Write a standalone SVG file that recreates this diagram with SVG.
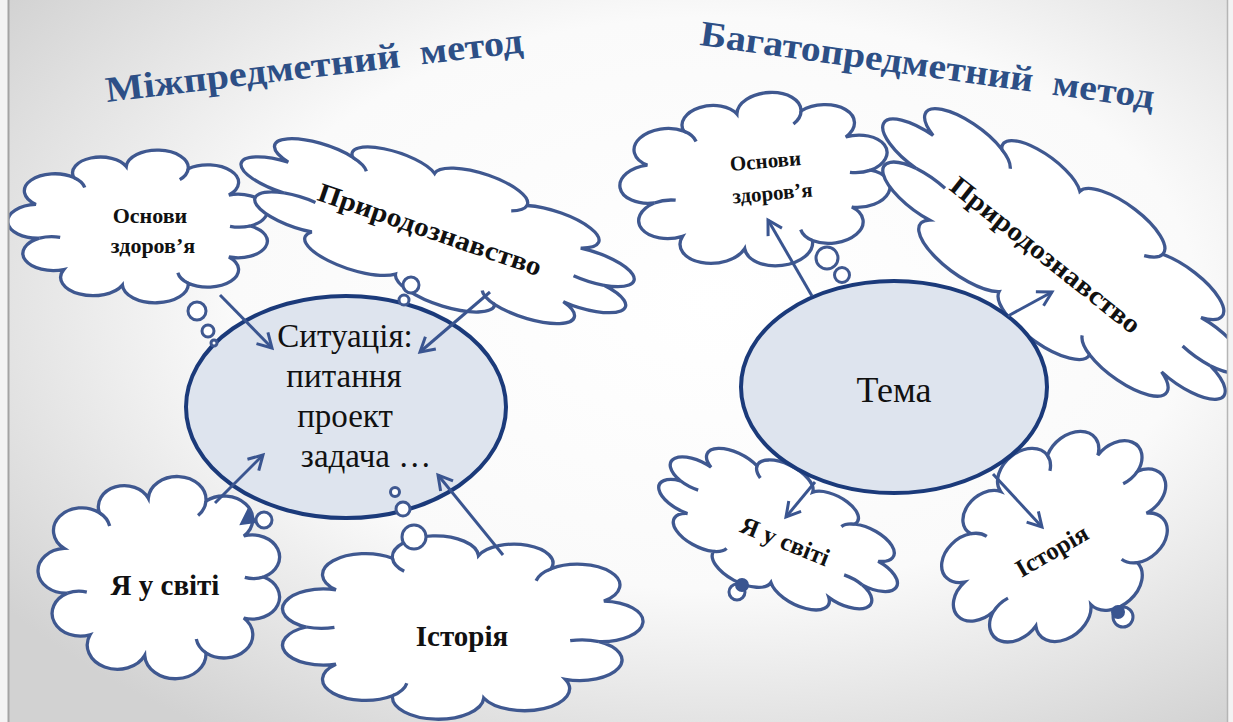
<svg xmlns="http://www.w3.org/2000/svg" width="1233" height="722" viewBox="0 0 1233 722">
<style>
.cl{fill:#fff;stroke:#3F5890;stroke-width:3.3}
.ci{fill:none;stroke:#3F5890;stroke-width:3.3}
.lbl{font-family:"Liberation Serif","Times New Roman",serif;font-weight:bold;fill:#111;text-anchor:middle}
.etx{font-family:"Liberation Serif","Times New Roman",serif;fill:#111;text-anchor:middle}
.ell{fill:#DEE4EE;stroke:#1B3A7A;stroke-width:4}
.arr{stroke:#3A5590;stroke-width:3;fill:none;marker-end:url(#ah)}
.bub{fill:#fff;stroke:#3F5890;stroke-width:3}
.dot{fill:#3A5590;stroke:#3A5590;stroke-width:2}
.title{font-family:"Liberation Serif","Times New Roman",serif;font-weight:bold;fill:#2D4F86;font-size:36px;white-space:pre}
</style>
<defs>
<radialGradient id="bg" cx="58%" cy="42%" r="72%">
<stop offset="0" stop-color="#ffffff"/>
<stop offset="0.55" stop-color="#fafafa"/>
<stop offset="1" stop-color="#d2d2d2"/>
</radialGradient>
<path id="cloud" vector-effect="non-scaling-stroke" d="M40,0 A10.8 10.8 0 0 1 32.2,20.1 A11.35 11.35 0 0 1 17.3,37.2 A12.05 12.05 0 0 1 -6.8,38.4 A11.85 11.85 0 0 1 -28.3,28.3 A11.15 11.15 0 0 1 -37.2,7.9 A10.95 10.95 0 0 1 -38.5,-14 A11.15 11.15 0 0 1 -24.6,-31.5 A10.25 10.25 0 0 1 -5.4,-38.6 A11.35 11.35 0 0 1 17.3,-37.2 A11.35 11.35 0 0 1 32.2,-20.1 A10.8 10.8 0 0 1 40,0 Z"/>
<path id="cloudin" vector-effect="non-scaling-stroke" d="M17.3,37.2 A11.35 11.35 0 0 1 13.5,30.4 M-37.2,7.9 A11.15 11.15 0 0 1 -29.6,7.4 M-24.6,-31.5 A11.15 11.15 0 0 1 -20.6,-25 M17.3,-37.2 A11.35 11.35 0 0 1 14.2,-30.1 M40,0 A10.8 10.8 0 0 1 32.6,0.2"/>
<marker id="ah" markerUnits="userSpaceOnUse" markerWidth="20" markerHeight="20" viewBox="0 0 20 20" refX="17" refY="10" orient="auto">
<path d="M3,2 L17,10 L3,18" fill="none" stroke="#3A5590" stroke-width="3"/>
</marker>
</defs>

<g id="background">
<rect x="0" y="0" width="1233" height="722" fill="#f3f3f3"/>
<rect x="9" y="0" width="1218" height="722" fill="url(#bg)"/>
</g>

<g id="titles">
<text class="title" xml:space="preserve" transform="translate(107,102) rotate(-6.8)" textLength="420" lengthAdjust="spacingAndGlyphs">Міжпредметний  метод</text>
<text class="title" xml:space="preserve" transform="translate(699,45) rotate(8)" textLength="458" lengthAdjust="spacingAndGlyphs">Багатопредметний  метод</text>
</g>

<g id="l-osnovy">
<use href="#cloud" class="cl" transform="translate(141,226) scale(2.73,1.54)"/>
<use href="#cloudin" class="ci" transform="translate(141,226) scale(2.73,1.54)"/>
<text class="lbl" font-size="22" x="150" y="223">Основи</text>
<text class="lbl" font-size="22" x="153" y="253">здоров’я</text>
</g>

<g id="l-pryroda">
<use href="#cloud" class="cl" transform="translate(440,232) rotate(18) scale(4.31,1.40)"/>
<use href="#cloudin" class="ci" transform="translate(440,232) rotate(18) scale(4.31,1.40)"/>
<text class="lbl" font-size="27" transform="translate(427,238) rotate(19)" textLength="235" lengthAdjust="spacingAndGlyphs">Природознавство</text>
</g>

<g id="l-ya">
<use href="#cloud" class="cl" transform="translate(162,577) scale(2.54,2.04)"/>
<use href="#cloudin" class="ci" transform="translate(162,577) scale(2.54,2.04)"/>
<text class="lbl" font-size="29" x="165" y="595">Я у світі</text>
</g>

<g id="l-istoriya">
<use href="#cloud" class="cl" transform="translate(458,627) scale(-3.79,1.85)"/>
<use href="#cloudin" class="ci" transform="translate(458,627) scale(-3.79,1.85)"/>
<text class="lbl" font-size="29" x="462" y="646">Історія</text>
</g>

<g id="r-osnovy">
<use href="#cloud" class="cl" transform="translate(758,180) rotate(-5) scale(2.83,1.75)"/>
<use href="#cloudin" class="ci" transform="translate(758,180) rotate(-5) scale(2.83,1.75)"/>
<text class="lbl" font-size="21" transform="translate(766,168) rotate(-5)">Основи</text>
<text class="lbl" font-size="21" transform="translate(773,200) rotate(-5)">здоров’я</text>
</g>

<g id="r-pryroda">
<use href="#cloud" class="cl" transform="translate(1062,258) rotate(36) scale(4.58,1.67)"/>
<use href="#cloudin" class="ci" transform="translate(1062,258) rotate(36) scale(4.58,1.67)"/>
<text class="lbl" font-size="27" transform="translate(1040,262) rotate(38.4)" textLength="235" lengthAdjust="spacingAndGlyphs">Природознавство</text>
</g>

<g id="r-ya">
<use href="#cloud" class="cl" transform="translate(777,530) rotate(27) scale(-2.71,1.29)"/>
<use href="#cloudin" class="ci" transform="translate(777,530) rotate(27) scale(-2.71,1.29)"/>
<text class="lbl" font-size="25" transform="translate(782,549) rotate(22)">Я у світі</text>
</g>

<g id="r-istoriya">
<use href="#cloud" class="cl" transform="translate(1058,538) rotate(-40) scale(2.60,1.88)"/>
<use href="#cloudin" class="ci" transform="translate(1058,538) rotate(-40) scale(2.60,1.88)"/>
<text class="lbl" font-size="25" transform="translate(1056,558) rotate(-30)">Історія</text>
</g>

<g id="l-situatsiya">
<ellipse class="ell" cx="346" cy="407" rx="160" ry="111"/>
<text class="etx" font-size="33" x="345" y="347">Ситуація:</text>
<text class="etx" font-size="33" x="344" y="387">питання</text>
<text class="etx" font-size="33" x="345" y="427">проект</text>
<text class="etx" font-size="33" x="366" y="467">задача …</text>
</g>

<g id="r-tema">
<ellipse class="ell" cx="894" cy="387" rx="153" ry="106"/>
<text class="etx" font-size="36" x="894" y="402">Тема</text>
</g>

<g id="thought-bubbles">
<circle class="bub" cx="197" cy="311" r="9"/>
<circle class="bub" cx="208" cy="331" r="6"/>
<circle class="bub" cx="214" cy="343" r="3"/>
<circle class="bub" cx="411" cy="285" r="8"/>
<circle class="bub" cx="404" cy="300" r="5"/>
<path class="dot" d="M241,524 L248,510 L256,522 Z"/>
<circle class="bub" cx="264" cy="520" r="8"/>
<circle class="bub" cx="395" cy="492" r="4.5"/>
<circle class="bub" cx="403" cy="509" r="7"/>
<circle class="bub" cx="414" cy="537" r="12"/>
<circle class="bub" cx="827" cy="258" r="11"/>
<circle class="bub" cx="842" cy="275" r="7.5"/>
<circle class="bub" cx="737" cy="592" r="8"/>
<circle class="dot" cx="742" cy="585" r="6"/>
<circle class="bub" cx="1123" cy="617" r="10"/>
<circle class="dot" cx="1118" cy="612" r="6"/>
</g>

<g id="connectors">
<line class="arr" x1="220" y1="295" x2="272" y2="348"/>
<line class="arr" x1="490" y1="292" x2="420" y2="352"/>
<line class="arr" x1="215" y1="503" x2="263" y2="455"/>
<line class="arr" x1="503" y1="555" x2="438" y2="475"/>
<line class="arr" x1="812" y1="296" x2="768" y2="220"/>
<line class="arr" x1="1008" y1="316" x2="1052" y2="292"/>
<line class="arr" x1="815" y1="482" x2="786" y2="517"/>
<line class="arr" x1="993" y1="474" x2="1042" y2="527"/>
</g>

<g id="frame">
<rect x="0" y="0" width="8" height="722" fill="#f3f3f3"/>
<line x1="8.5" y1="0" x2="8.5" y2="722" stroke="#a3a3a3" stroke-width="2"/>
<rect x="1228" y="0" width="5" height="722" fill="#f3f3f3"/>
<line x1="1227.5" y1="0" x2="1227.5" y2="722" stroke="#b5b5b5" stroke-width="1.5"/>
</g>
</svg>
